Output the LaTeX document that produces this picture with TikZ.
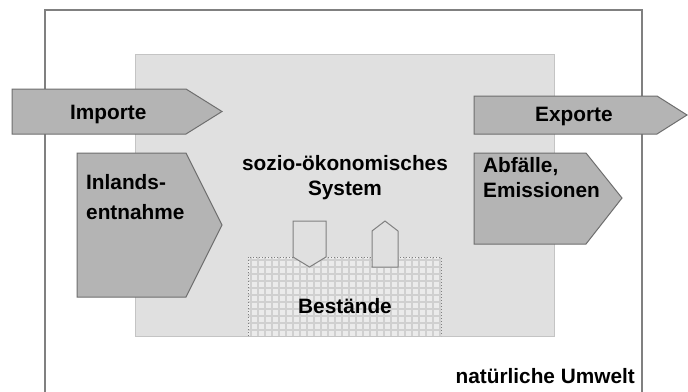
\documentclass[tikz,border=0pt]{standalone}
\usepackage{fontspec}
\setmainfont{Liberation Sans}
\usetikzlibrary{positioning}

\definecolor{umweltline}{HTML}{808080}
\definecolor{systemfill}{HTML}{E0E0E0}
\definecolor{systemline}{HTML}{C4C4C4}
\definecolor{flowfill}{HTML}{B4B4B4}
\definecolor{flowline}{HTML}{6E6E6E}
\definecolor{stockfill}{HTML}{EBEBEB}
\definecolor{stockgrid}{HTML}{D0D0D0}

\tikzset{
    lbl/.style={inner sep=0pt, font=\bfseries\fontsize{20.8}{25}\selectfont, align=left},
    flow/.style={fill=flowfill, draw=flowline, line width=1pt},
    smallflow/.style={fill=systemfill, draw=umweltline, line width=1pt},
}

\begin{document}
\begin{tikzpicture}[x=1pt,y=-1pt]
    \useasboundingbox (0,0) rectangle (688,391);
    \fill[white] (0,0) rectangle (688,391);

    % natuerliche Umwelt
    \draw[umweltline, line width=1.5pt] (45,400) -- (45,10) -- (642,10) -- (642,400);

    % sozio-oekonomisches System
    \draw[fill=systemfill, draw=systemline, line width=1pt] (135,54) rectangle (554,336);

    % Bestaende
    \fill[stockfill] (248,257) rectangle (441,336);
    \foreach \gx in {251,258,...,440}
        \draw[stockgrid, line width=1.6pt] (\gx,257) -- (\gx,336);
    \foreach \gy in {260,267,...,336}
        \draw[stockgrid, line width=1.6pt] (248,\gy) -- (441,\gy);
    \draw[umweltline, dotted, line width=1pt] (248,336) -- (248,257) -- (441,257) -- (441,336);

    % flows
    \draw[flow] (12,89) -- (186,89) -- (222,111.5) -- (186,134) -- (12,134) -- cycle;
    \draw[flow] (77,153) -- (186,153) -- (222,225) -- (186,297) -- (77,297) -- cycle;
    \draw[flow] (474,96) -- (657,96) -- (687,115) -- (657,134) -- (474,134) -- cycle;
    \draw[flow] (474,153) -- (586,153) -- (622,198) -- (586,244) -- (474,244) -- cycle;

    \draw[smallflow] (293,221) -- (326,221) -- (326,257) -- (309.5,267) -- (293,257) -- cycle;
    \draw[smallflow] (372,267) -- (372,231) -- (385,221) -- (398,231) -- (398,267) -- cycle;

    % labels
    \node[lbl, anchor=base west] (importe) at (70,119) {Importe};
    \node[lbl, anchor=base west] (exporte) at (535,121) {Exporte};
    \node[lbl, anchor=base west] (inland) at (86,219) {Inlands-\\[5pt]entnahme};
    \node[lbl, anchor=base west] (abfall) at (483,197) {Abfälle,\\Emissionen};
    \node[lbl, anchor=base, align=center] (system) at (345,195) {sozio-ökonomisches\\System};
    \node[lbl, anchor=base] (bestand) at (345,313) {Bestände};
    \node[lbl, anchor=base east] (umwelt) at (635,383) {natürliche Umwelt};
\end{tikzpicture}
\end{document}
